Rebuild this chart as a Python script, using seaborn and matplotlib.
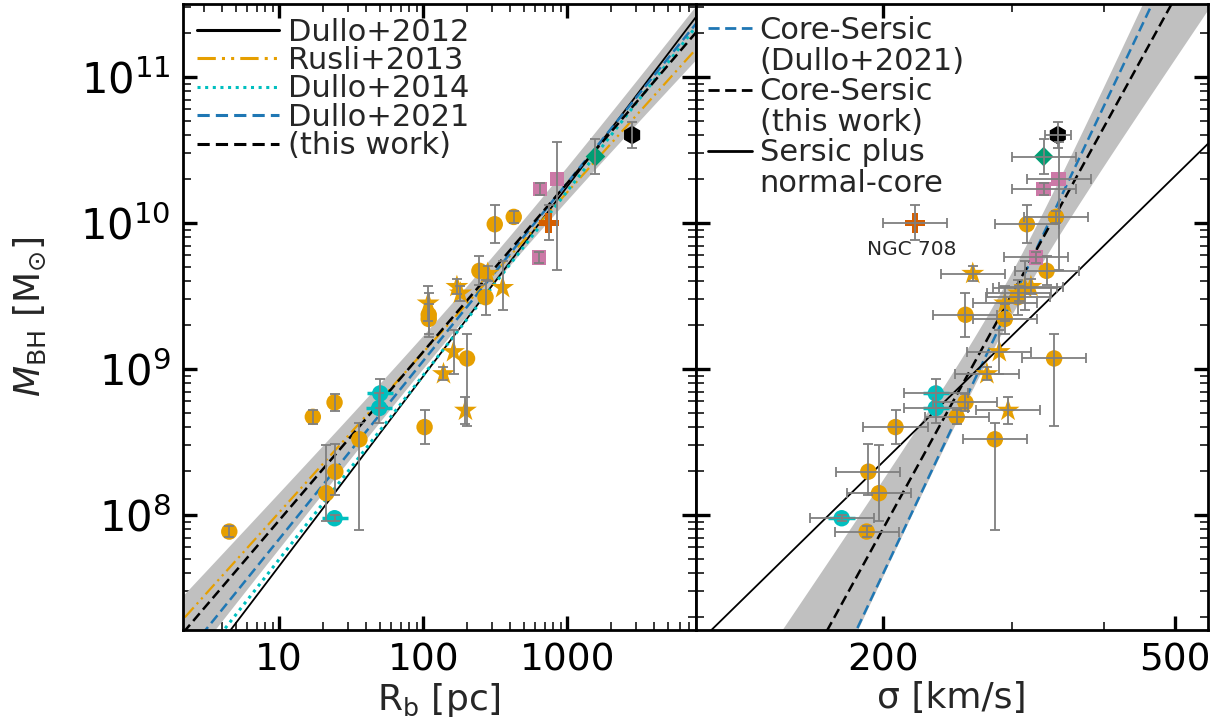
import numpy as np
import pandas as pd
import matplotlib
matplotlib.use("Agg")
import matplotlib.pyplot as plt
from matplotlib.lines import Line2D
from matplotlib.ticker import LogLocator, NullFormatter, FixedLocator
import seaborn as sns

sns.set_theme(style="ticks")
plt.rcParams['font.family'] = ['DejaVu Sans']
plt.rcParams['mathtext.fontset'] = 'dejavusans'

# ---------------- data ----------------
groups = (["core"] * 14 + ["star"] * 8 + ["cyan"] * 3 + ["pink"] * 3
          + ["plus"] + ["diamond"] + ["hex"])
rb_pc = [424, 313, 245, 270, 109, 109, 201, 102, 24.2, 17.1, 36, 24.5, 21.2, 4.5,
         280, 355, 171, 181, 108, 162, 138, 196,
         50.2, 49.4, 24.2,
         848, 643, 635,
         741, 1565, 2810]
sigma_kms = [344, 314, 334, 305, 259, 293, 342, 208, 259, 252, 284, 191, 197.5, 190,
             265, 312, 318, 306, 293, 288, 277, 296,
             236, 236, 175.7,
             347, 331, 323,
             221, 331, 346]
mbh = [1.1e10, 9.8e9, 4.7e9, 3.1e9, 2.35e9, 2.2e9, 1.18e9, 4.0e8, 5.9e8, 4.7e8, 3.3e8, 1.98e8, 1.41e8, 7.7e7,
       4.5e9, 3.6e9, 3.66e9, 3.3e9, 2.82e9, 1.31e9, 9.25e8, 5.2e8,
       6.8e8, 5.4e8, 9.5e7,
       2.0e10, 1.71e10, 5.8e9,
       1.0e10, 2.85e10, 4.0e10]
# errors on log M (dex): lower / upper
m_err_lo = [0.04, 0.13, 0.10, 0.12, 0.15, 0.10, 0.46, 0.115, 0.06, 0.05, 0.62, 0.16, 0.19, 0.04,
            0.05, 0.15, 0.05, 0.05, 0.12, 0.15, 0.045, 0.09,
            0.10, 0.10, 0.02,
            0.62, 0.04, 0.04,
            0.12, 0.12, 0.09]
m_err_hi = [0.04, 0.13, 0.10, 0.12, 0.15, 0.10, 0.17, 0.115, 0.06, 0.05, 0.11, 0.19, 0.33, 0.04,
            0.05, 0.18, 0.05, 0.05, 0.12, 0.15, 0.045, 0.09,
            0.10, 0.10, 0.02,
            0.25, 0.04, 0.04,
            0.12, 0.12, 0.09]
# error on log sigma (dex)
s_err = [0.0436] * 30 + [0.018]

# fit relations: log M = a + b * log(x)
fit_rb_names = ["Dullo+2012", "Rusli+2013", "Dullo+2014", "Dullo+2021", "(this work)"]
fit_rb_a = [6.351, 6.921, 6.436, 6.616, 6.809]
fit_rb_b = [1.300, 1.097, 1.261, 1.220, 1.155]
band_rb = (0.10, 0.11, 2.48)          # scatter in intercept, slope, pivot

# log M = a + b * log(sigma/200)
fit_sig_names = ["Core-Sersic\n(Dullo+2021)", "Core-Sersic\n(this work)", "Sersic plus\nnormal-core"]
fit_sig_a = [7.597, 7.905, 8.363]
fit_sig_b = [10.65, 9.146, 4.925]
band_sig = (0.146, 1.75, 0.17)

df = pd.DataFrame(dict(group=groups, Rb=rb_pc, sigma=sigma_kms, M=mbh,
                       elo=m_err_lo, ehi=m_err_hi, es=s_err))

palette = {"core": "#E69F00", "star": "#E69F00", "cyan": "#00BFBF", "pink": "#CC79A7",
           "plus": "#D55E00", "diamond": "#009E73", "hex": "#000000"}
markers = {"core": "o", "star": "*", "cyan": "o", "pink": "s",
           "plus": "P", "diamond": "D", "hex": "h"}
sizes = {"core": 140, "star": 300, "cyan": 140, "pink": 110,
         "plus": 200, "diamond": 100, "hex": 180}

# ---------------- figure ----------------
fig, (ax1, ax2) = plt.subplots(1, 2, figsize=(12.22, 7.22), dpi=100, sharey=True)
fig.subplots_adjust(left=0.1498, right=0.9885, bottom=0.1274, top=0.9945, wspace=0)

for ax in (ax1, ax2):
    ax.set_yscale("log")
    ax.set_xscale("log")

# ---- left panel: fits ----
xr = np.logspace(0.2, 4.0, 300)
lx = np.log10(xr)
sa, sb, x0 = band_rb
mid = fit_rb_a[4] + fit_rb_b[4] * lx
half = np.sqrt(sa ** 2 + (sb * (lx - x0)) ** 2)
ax1.fill_between(xr, 10 ** (mid - half), 10 ** (mid + half), color="#C0C0C0", lw=0, zorder=1)

rb_styles = [dict(color="black", linestyle="-", lw=1.3),
             dict(color="#E69F00", linestyle=(0, (6, 2, 1, 2, 1, 2)), lw=1.6),
             dict(color="#00BFBF", linestyle=(0, (1, 1.5)), lw=2.2),
             dict(color="#1f77b4", linestyle=(0, (4, 2)), lw=1.8),
             dict(color="black", linestyle=(0, (4, 2)), lw=1.8)]
for name, a, b, st in zip(fit_rb_names, fit_rb_a, fit_rb_b, rb_styles):
    sns.lineplot(x=xr, y=10 ** (a + b * lx), ax=ax1, zorder=2, **st)

# ---- right panel: fits ----
xs = np.logspace(np.log10(100), np.log10(600), 300)
ls = np.log10(xs / 200)
sa, sb, s0 = band_sig
mid = fit_sig_a[1] + fit_sig_b[1] * ls
half = np.sqrt(sa ** 2 + (sb * (ls - s0)) ** 2)
ax2.fill_between(xs, 10 ** (mid - half), 10 ** (mid + half), color="#C0C0C0", lw=0, zorder=1)
sig_styles = [dict(color="#1f77b4", linestyle=(0, (4, 2)), lw=1.8),
              dict(color="black", linestyle=(0, (4, 2)), lw=1.8),
              dict(color="black", linestyle="-", lw=1.3)]
for name, a, b, st in zip(fit_sig_names, fit_sig_a, fit_sig_b, sig_styles):
    sns.lineplot(x=xs, y=10 ** (a + b * ls), ax=ax2, zorder=2, **st)

# ---- points ----
for ax, xcol in ((ax1, "Rb"), (ax2, "sigma")):
    sns.scatterplot(data=df, x=xcol, y="M", hue="group", style="group", size="group",
                    palette=palette, markers=markers, sizes=sizes, linewidth=0,
                    legend=False, ax=ax, zorder=3)

yerr = [df.M - df.M * 10 ** (-df.elo), df.M * 10 ** df.ehi - df.M]
cy = df[df.group == "cyan"]
ax1.errorbar(cy.Rb, cy.M, xerr=[cy.Rb - cy.Rb * 10 ** -0.09, cy.Rb * 10 ** 0.09 - cy.Rb],
             fmt="none", ecolor="#00BFBF", elinewidth=2.5, capsize=0, zorder=3.5)
ax1.errorbar(df.Rb, df.M, yerr=yerr, fmt="none", ecolor="#7f7f7f",
             elinewidth=1.3, capsize=3.5, capthick=1.3, zorder=4)
ax2.errorbar(cy.sigma, cy.M, xerr=[cy.sigma - cy.sigma * 10 ** -0.018, cy.sigma * 10 ** 0.018 - cy.sigma],
             fmt="none", ecolor="#00BFBF", elinewidth=2.5, capsize=0, zorder=3.5)
ax2.errorbar(df.sigma, df.M, yerr=yerr,
             xerr=[df.sigma - df.sigma * 10 ** (-df.es), df.sigma * 10 ** df.es - df.sigma],
             fmt="none", ecolor="#7f7f7f", elinewidth=1.3, capsize=3.5, capthick=1.3, zorder=4)

n708 = df[df.group == "plus"].iloc[0]
ax2.annotate("NGC 708", (n708.sigma, n708.M), xytext=(-2, -19), textcoords="offset points",
             ha="center", va="center", fontsize=14.5)

# ---- axes ----
ax1.set_xlim(2.15, 7740)
ax2.set_xlim(111.1, 554)
ax1.set_ylim(1.63e7, 3.16e11)

ax1.xaxis.set_major_locator(FixedLocator([10, 100, 1000]))
ax1.set_xticklabels(["10", "100", "1000"])
ax1.xaxis.set_minor_locator(LogLocator(base=10, subs=np.arange(2, 10)))
ax1.xaxis.set_minor_formatter(NullFormatter())
ax1.yaxis.set_major_locator(LogLocator(base=10))
ax1.yaxis.set_minor_locator(LogLocator(base=10, subs=np.arange(2, 10)))
ax1.yaxis.set_minor_formatter(NullFormatter())

ax2.xaxis.set_major_locator(FixedLocator([200, 500]))
ax2.set_xticklabels(["200", "500"])
ax2.xaxis.set_minor_locator(FixedLocator([300, 400]))
ax2.xaxis.set_minor_formatter(NullFormatter())

for ax in (ax1, ax2):
    ax.tick_params(which="major", direction="in", length=10, width=2.4, top=True, right=True,
                   pad=9, colors="black")
    ax.tick_params(axis="x", which="major", labelsize=27)
    ax.tick_params(axis="y", which="major", labelsize=30)
    ax.tick_params(which="minor", direction="in", length=5.5, width=1.3, top=True, right=True)
    for sp in ax.spines.values():
        sp.set_linewidth(2.0)
        sp.set_color("black")
ax2.tick_params(labelleft=False)

ax1.set_xlabel(r"R$_{\rm b}$ [pc]", fontsize=26, labelpad=2)
ax2.set_xlabel(r"σ [km/s]", fontsize=26, labelpad=2)
ax1.set_ylabel(r"$M_{\rm BH}$ [M$_{\odot}$]", fontsize=26, labelpad=23)

# ---- legends ----
h1 = [Line2D([], [], **st) for st in rb_styles]
for h in h1:
    h.set_linewidth(2.2)
ax1.legend(h1, fit_rb_names, loc="upper left", frameon=False, fontsize=22,
           handlelength=2.7, handletextpad=0.3, labelspacing=-0.02,
           borderaxespad=0.15, borderpad=0.3)

h2, l2 = [], []
for name, st in zip(fit_sig_names, sig_styles):
    first, second = name.split("\n")
    hh = Line2D([], [], **st)
    hh.set_linewidth(2.0)
    h2 += [hh, Line2D([], [], color="none")]
    l2 += [first, second]
ax2.legend(h2, l2, loc="upper left", frameon=False, fontsize=22,
           handlelength=1.45, handletextpad=0.25, labelspacing=0.05,
           borderaxespad=0.0, borderpad=0.4)

fig.savefig("out.png", dpi=100)
